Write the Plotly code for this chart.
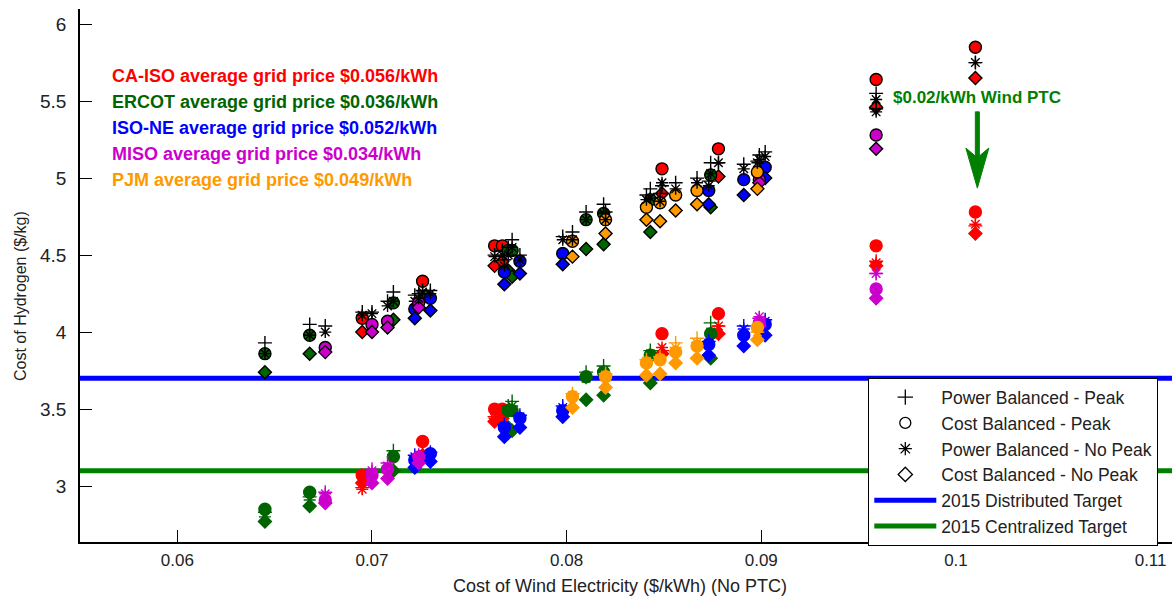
import plotly.graph_objects as go

# ---------------------------------------------------------------------------
# Cost of wind electricity (no PTC), $/kWh, for each wind site in each ISO
# ---------------------------------------------------------------------------
ca_iso_wind = [0.0695, 0.0726, 0.0763, 0.0767, 0.0849, 0.0878, 0.0959, 0.1010]
ercot_wind = [0.0645, 0.0668, 0.0711, 0.0770, 0.0772, 0.0810, 0.0819, 0.0843, 0.0874]
iso_ne_wind = [0.0722, 0.0730, 0.0768, 0.0776, 0.0798, 0.0873, 0.0891, 0.0902]
miso_wind = [0.0676, 0.0700, 0.0708, 0.0724, 0.0899, 0.0959]
pjm_wind = [0.0803, 0.0820, 0.0841, 0.0848, 0.0856, 0.0867, 0.0898]

# Hydrogen cost ($/kg) without PTC
ca_iso_pb_peak = [4.13, 4.27, 4.50, 4.53, 4.95, 5.10, 5.55, 5.75]
ca_iso_cb_peak = [4.09, 4.33, 4.56, 4.56, 5.06, 5.19, 5.64, 5.85]
ca_iso_pb_nopeak = [4.11, 4.26, 4.49, 4.50, 4.97, 5.10, 5.51, 5.75]
ca_iso_cb_nopeak = [4.00, 4.22, 4.43, 4.46, 4.90, 5.01, 5.46, 5.65]

ercot_pb_peak = [3.93, 4.05, 4.26, 4.55, 4.60, 4.78, 4.83, 4.93, 5.10]
ercot_cb_peak = [3.86, 3.98, 4.19, 4.53, 4.53, 4.73, 4.77, 4.86, 5.02]
ercot_pb_nopeak = [3.86, 3.98, 4.20, 4.50, 4.55, 4.73, 4.77, 4.87, 5.03]
ercot_cb_nopeak = [3.74, 3.86, 4.08, 4.40, 4.36, 4.54, 4.57, 4.65, 4.81]

iso_ne_pb_peak = [4.24, 4.27, 4.47, 4.50, 4.62, 4.98, 5.09, 5.17]
iso_ne_cb_peak = [4.15, 4.22, 4.39, 4.46, 4.51, 4.92, 4.99, 5.07]
iso_ne_pb_nopeak = [4.20, 4.25, 4.43, 4.47, 4.60, 4.95, 5.06, 5.14]
iso_ne_cb_nopeak = [4.09, 4.14, 4.31, 4.38, 4.44, 4.83, 4.89, 5.00]

miso_pb_peak = [4.04, 4.13, 4.20, 4.25, 5.15, 5.45]
miso_cb_peak = [3.90, 4.05, 4.07, 4.19, 4.99, 5.28]
miso_pb_nopeak = [4.00, 4.12, 4.17, 4.22, 5.12, 5.43]
miso_cb_nopeak = [3.87, 4.00, 4.03, 4.16, 4.97, 5.19]

pjm_pb_peak = [4.65, 4.78, 4.89, 4.90, 4.97, 5.00, 5.11]
pjm_cb_peak = [4.59, 4.73, 4.81, 4.84, 4.89, 4.92, 5.04]
pjm_pb_nopeak = [4.60, 4.73, 4.86, 4.85, 4.93, 4.97, 5.10]
pjm_cb_nopeak = [4.49, 4.64, 4.73, 4.72, 4.79, 4.83, 4.93]

# Hydrogen cost ($/kg) with the $0.02/kWh wind PTC
ca_iso_pb_peak_ptc = [2.99, 3.22, 3.45, 3.47, 3.88, 4.04, 4.46, 4.69]
ca_iso_cb_peak_ptc = [3.07, 3.29, 3.50, 3.50, 3.99, 4.12, 4.56, 4.78]
ca_iso_pb_nopeak_ptc = [2.98, 3.21, 3.44, 3.46, 3.90, 4.04, 4.45, 4.70]
ca_iso_cb_nopeak_ptc = [3.02, 3.20, 3.42, 3.44, 3.86, 3.99, 4.43, 4.64]

ercot_pb_peak_ptc = [2.83, 2.93, 3.23, 3.52, 3.55, 3.74, 3.78, 3.88, 4.06]
ercot_cb_peak_ptc = [2.85, 2.96, 3.19, 3.49, 3.49, 3.71, 3.74, 3.85, 3.99]
ercot_pb_nopeak_ptc = [2.80, 2.91, 3.20, 3.49, 3.52, 3.70, 3.75, 3.86, 4.00]
ercot_cb_nopeak_ptc = [2.77, 2.87, 3.10, 3.38, 3.36, 3.56, 3.59, 3.67, 3.83]

iso_ne_pb_peak_ptc = [3.20, 3.22, 3.40, 3.46, 3.52, 3.94, 4.04, 4.08]
iso_ne_cb_peak_ptc = [3.17, 3.21, 3.38, 3.44, 3.49, 3.92, 3.98, 4.05]
iso_ne_pb_nopeak_ptc = [3.19, 3.21, 3.39, 3.45, 3.51, 3.93, 4.02, 4.07]
iso_ne_cb_nopeak_ptc = [3.12, 3.16, 3.32, 3.38, 3.45, 3.85, 3.91, 3.98]

miso_pb_peak_ptc = [2.96, 3.11, 3.15, 3.20, 4.09, 4.38]
miso_cb_peak_ptc = [2.91, 3.07, 3.11, 3.19, 4.06, 4.28]
miso_pb_nopeak_ptc = [2.95, 3.10, 3.13, 3.19, 4.10, 4.38]
miso_cb_nopeak_ptc = [2.89, 3.02, 3.05, 3.15, 4.04, 4.22]

pjm_pb_peak_ptc = [3.60, 3.73, 3.82, 3.84, 3.93, 3.96, 4.00]
pjm_cb_peak_ptc = [3.58, 3.71, 3.80, 3.82, 3.87, 3.91, 4.03]
pjm_pb_nopeak_ptc = [3.59, 3.72, 3.81, 3.83, 3.90, 3.93, 4.00]
pjm_cb_nopeak_ptc = [3.51, 3.64, 3.72, 3.73, 3.80, 3.83, 3.95]

# DOE 2015 hydrogen cost targets, $/kg
distributed_target = 3.7
centralized_target = 3.1

grid_price_labels = [
    "CA-ISO average grid price $0.056/kWh",
    "ERCOT average grid price $0.036/kWh",
    "ISO-NE average grid price $0.052/kWh",
    "MISO average grid price $0.034/kWh",
    "PJM average grid price $0.049/kWh",
]
scenario_names = [
    "Power Balanced - Peak",
    "Cost Balanced - Peak",
    "Power Balanced - No Peak",
    "Cost Balanced - No Peak",
]
ptc_label = "$0.02/kWh Wind PTC"
ptc_value = 0.1011

x_ticks = [0.06, 0.07, 0.08, 0.09, 0.10, 0.11]
x_tick_text = ["0.06", "0.07", "0.08", "0.09", "0.1", "0.11"]
y_ticks = [3, 3.5, 4, 4.5, 5, 5.5, 6]
y_tick_text = ["3", "3.5", "4", "4.5", "5", "5.5", "6"]
x_range = [0.055, 0.1111]
y_range = [2.637, 6.098]

# ---------------------------------------------------------------------------
RED, GREEN, BLUE, MAGENTA, ORANGE = "#FF0000", "#006400", "#0000FF", "#CC00CC", "#FF9900"
LINE_GREEN = "#008000"
FONT = "Arial, 'Liberation Sans', sans-serif"
TEXT = "#222222"

regions = [
    (RED, ca_iso_wind,
     [ca_iso_pb_peak, ca_iso_cb_peak, ca_iso_pb_nopeak, ca_iso_cb_nopeak],
     [ca_iso_pb_peak_ptc, ca_iso_cb_peak_ptc, ca_iso_pb_nopeak_ptc, ca_iso_cb_nopeak_ptc]),
    (GREEN, ercot_wind,
     [ercot_pb_peak, ercot_cb_peak, ercot_pb_nopeak, ercot_cb_nopeak],
     [ercot_pb_peak_ptc, ercot_cb_peak_ptc, ercot_pb_nopeak_ptc, ercot_cb_nopeak_ptc]),
    (BLUE, iso_ne_wind,
     [iso_ne_pb_peak, iso_ne_cb_peak, iso_ne_pb_nopeak, iso_ne_cb_nopeak],
     [iso_ne_pb_peak_ptc, iso_ne_cb_peak_ptc, iso_ne_pb_nopeak_ptc, iso_ne_cb_nopeak_ptc]),
    (MAGENTA, miso_wind,
     [miso_pb_peak, miso_cb_peak, miso_pb_nopeak, miso_cb_nopeak],
     [miso_pb_peak_ptc, miso_cb_peak_ptc, miso_pb_nopeak_ptc, miso_cb_nopeak_ptc]),
    (ORANGE, pjm_wind,
     [pjm_pb_peak, pjm_cb_peak, pjm_pb_nopeak, pjm_cb_nopeak],
     [pjm_pb_peak_ptc, pjm_cb_peak_ptc, pjm_pb_nopeak_ptc, pjm_cb_nopeak_ptc]),
]
region_colors = [RED, GREEN, BLUE, MAGENTA, ORANGE]

# marker symbol and size for each scenario, in scenario_names order
symbols = ["cross-thin", "circle", "asterisk", "diamond"]
sizes = [10, 12, 10, 10]
draw_order = [1, 3, 0, 2]  # circles, diamonds, then the line markers on top

fig = go.Figure()

# 2015 target lines (drawn first so the markers sit on top of them)
fig.add_trace(go.Scatter(x=x_range, y=[distributed_target] * 2, mode="lines",
                         line=dict(color="#0000FF", width=5),
                         name="2015 Distributed Target", legendrank=5))
fig.add_trace(go.Scatter(x=x_range, y=[centralized_target] * 2, mode="lines",
                         line=dict(color=LINE_GREEN, width=5),
                         name="2015 Centralized Target", legendrank=6))


def marker_style(k, color, outlined):
    sym = symbols[k]
    edge = "black" if outlined else color
    if sym in ("cross-thin", "asterisk"):
        return dict(symbol=sym, size=sizes[k], line=dict(color=edge, width=1.4))
    return dict(symbol=sym, size=sizes[k], color=color, line=dict(color=edge, width=1.4))


for color, wind, no_ptc, with_ptc in regions:
    for series, outlined in ((no_ptc, True), (with_ptc, False)):
        for k in draw_order:
            fig.add_trace(go.Scatter(
                x=wind, y=series[k], mode="markers",
                marker=marker_style(k, color, outlined),
                showlegend=False, hoverinfo="x+y"))

# legend-only entries for the four dispatch scenarios
legend_symbols = ["cross-thin", "circle-open", "asterisk", "diamond-open"]
for rank, (name, sym) in enumerate(zip(scenario_names, legend_symbols), start=1):
    fig.add_trace(go.Scatter(x=[None], y=[None], mode="markers", name=name,
                             legendrank=rank,
                             marker=dict(symbol=sym, size=11, color="black",
                                         line=dict(color="black", width=1.3))))

# ---------------------------------------------------------------------------
PLOT_L, PLOT_T, PLOT_W, PLOT_H = 80, 9, 1092, 533


def px_x(px):
    return (px - PLOT_L) / PLOT_W


def px_y(py):
    return (PLOT_T + PLOT_H - py) / PLOT_H


annotations = []
for i, (label, color) in enumerate(zip(grid_price_labels, region_colors)):
    annotations.append(dict(
        x=px_x(110), y=px_y(75.7 + 26.1 * i), xref="paper", yref="paper",
        xanchor="left", yanchor="middle", showarrow=False, text=label,
        font=dict(family=FONT, size=18, color=color, weight="bold")))

annotations.append(dict(
    x=ptc_value, y=px_y(97), xref="x", yref="paper", xanchor="center",
    yanchor="middle", showarrow=False, text=ptc_label,
    font=dict(family=FONT, size=17, color=LINE_GREEN, weight="bold")))

annotations.append(dict(
    x=px_x(620), y=px_y(586), xref="paper", yref="paper", showarrow=False,
    xanchor="center", yanchor="middle",
    text="Cost of Wind Electricity ($/kWh) (No PTC)",
    font=dict(family=FONT, size=18, color=TEXT)))
annotations.append(dict(
    x=px_x(20), y=px_y(296), xref="paper", yref="paper", showarrow=False,
    xanchor="center", yanchor="middle", textangle=-90,
    text="Cost of Hydrogen ($/kg)",
    font=dict(family=FONT, size=16, color=TEXT)))

# downward arrow under the PTC label (shaft + swept-back head)
hw, HW = 0.000103, 0.00059
y_top, y_notch, y_back, y_tip = 5.43, 5.143, 5.195, 4.935
cx = ptc_value
arrow_path = (f"M{cx - hw},{y_top} L{cx + hw},{y_top} L{cx + hw},{y_notch} "
              f"L{cx + HW},{y_back} L{cx},{y_tip} L{cx - HW},{y_back} "
              f"L{cx - hw},{y_notch} Z")

fig.update_layout(
    width=1172, height=598,
    margin=dict(l=PLOT_L, r=1172 - PLOT_L - PLOT_W, t=PLOT_T, b=598 - PLOT_T - PLOT_H),
    paper_bgcolor="white", plot_bgcolor="white",
    font=dict(family=FONT, color=TEXT),
    showlegend=True,
    legend=dict(x=px_x(868), y=px_y(378), xanchor="left", yanchor="top",
                bgcolor="white", bordercolor="black", borderwidth=1.3,
                font=dict(family=FONT, size=17.5, color=TEXT),
                itemwidth=62, tracegroupgap=0),
    annotations=annotations,
    shapes=[dict(type="path", xref="x", yref="y", path=arrow_path,
                 fillcolor=LINE_GREEN, line=dict(color=LINE_GREEN, width=1))],
    xaxis=dict(range=x_range, tickvals=x_ticks, ticktext=x_tick_text,
               showgrid=False, zeroline=False, showline=True, linecolor="black",
               linewidth=1.5, ticks="inside", ticklen=12, tickwidth=1,
               tickcolor="black", tickfont=dict(size=17, color=TEXT),
               ticklabelstandoff=2, mirror=False),
    yaxis=dict(range=y_range, tickvals=y_ticks, ticktext=y_tick_text,
               showgrid=False, zeroline=False, showline=True, linecolor="black",
               linewidth=1.5, ticks="inside", ticklen=12, tickwidth=1,
               tickcolor="black", tickfont=dict(size=19, color=TEXT),
               ticklabelstandoff=8, mirror=False),
)

fig.write_html("out.html")
